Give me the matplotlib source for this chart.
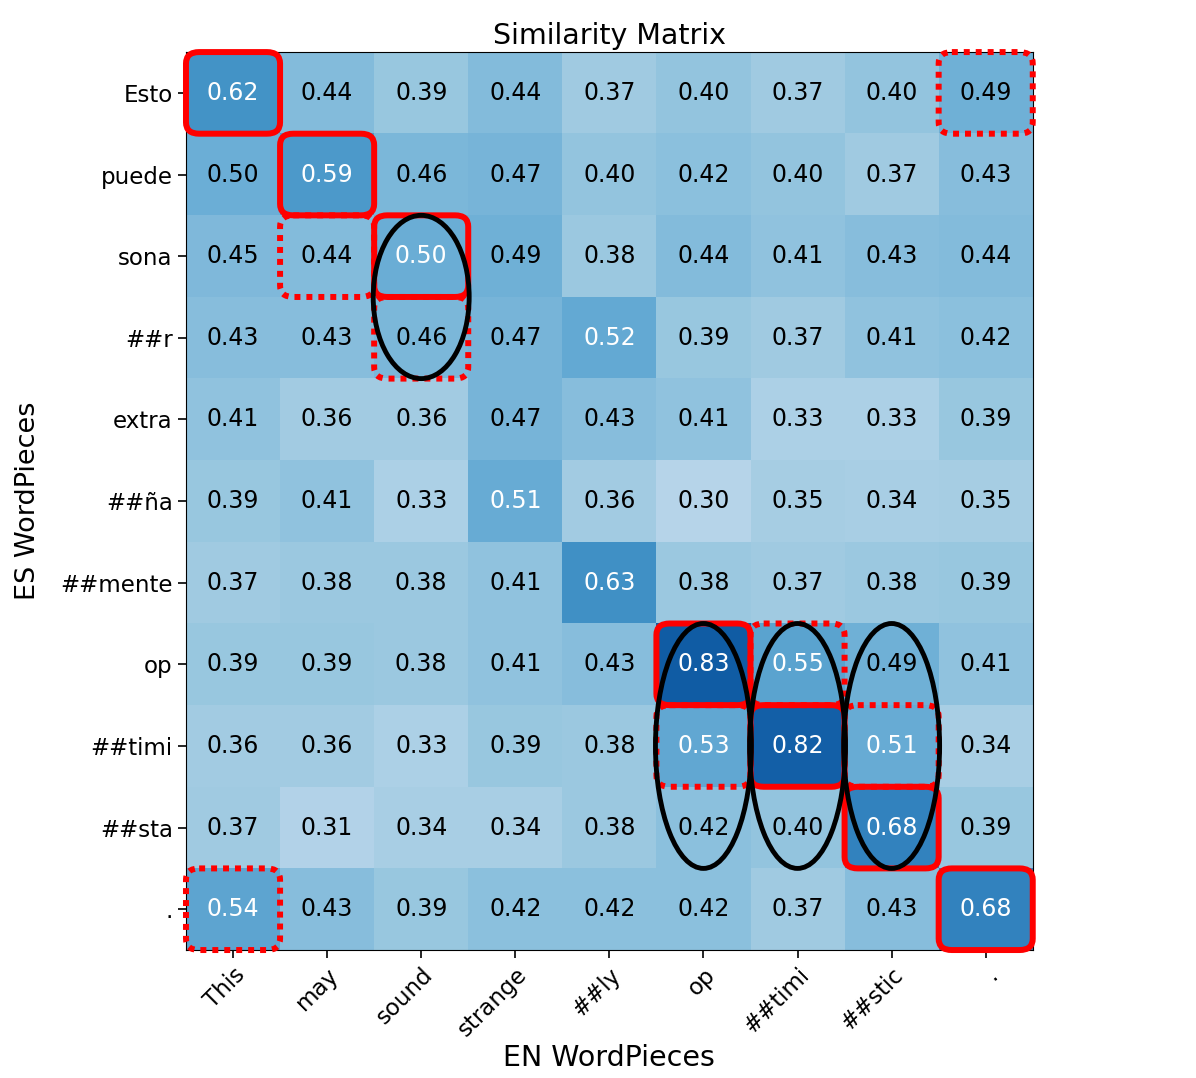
import numpy as np
from matplotlib import pyplot as plt
from matplotlib.patches import FancyBboxPatch, Ellipse

# 词片
en_pieces = ['This', 'may', 'sound', 'strange', '##ly', 'op', '##timi', '##stic', '.']
es_pieces = ['Esto', 'puede', 'sona', '##r', 'extra', '##ña', '##mente', 'op', '##timi', '##sta', '.']

# 相似度
sim = np.array([
    [0.62, 0.44, 0.39, 0.44, 0.37, 0.40, 0.37, 0.40, 0.49],
    [0.498, 0.59, 0.46, 0.47, 0.40, 0.42, 0.40, 0.37, 0.43],
    [0.45, 0.44, 0.502, 0.49, 0.38, 0.44, 0.41, 0.43, 0.44],
    [0.43, 0.43, 0.46, 0.47, 0.52, 0.39, 0.37, 0.41, 0.42],
    [0.41, 0.36, 0.36, 0.47, 0.43, 0.41, 0.33, 0.33, 0.39],
    [0.39, 0.41, 0.33, 0.51, 0.36, 0.30, 0.35, 0.34, 0.35],
    [0.37, 0.38, 0.38, 0.41, 0.63, 0.38, 0.37, 0.38, 0.39],
    [0.39, 0.39, 0.38, 0.41, 0.43, 0.83, 0.55, 0.49, 0.41],
    [0.36, 0.36, 0.33, 0.39, 0.38, 0.53, 0.82, 0.51, 0.34],
    [0.37, 0.31, 0.34, 0.34, 0.38, 0.42, 0.40, 0.68, 0.39],
    [0.54, 0.43, 0.39, 0.42, 0.42, 0.42, 0.37, 0.43, 0.68],
])

# 标注 (row, col)
solid_boxes = [(0, 0), (1, 1), (2, 2), (7, 5), (8, 6), (9, 7), (10, 8)]
dotted_boxes = [(0, 8), (2, 1), (3, 2), (7, 6), (8, 5), (8, 7), (10, 0)]
# (中心行, 列, 行数)
ellipses = [(2.5, 2, 2), (8, 5, 3), (8, 6, 3), (8, 7, 3)]

fig = plt.figure(figsize=(11.96, 10.78), dpi=100)
ax = fig.add_axes([0.1555, 0.1187, 0.708, 0.833])
ax.imshow(sim, cmap='Blues', vmin=0, vmax=1, aspect='auto')

for i in range(sim.shape[0]):
    for j in range(sim.shape[1]):
        v = sim[i, j]
        ax.text(j, i, f'{v:.2f}', ha='center', va='center', fontsize=17,
                color='white' if v > 0.5 else 'black')


def add_box(r, c, ls):
    pad = 0.04
    box = FancyBboxPatch((c - 0.5 + pad, r - 0.5 + pad), 1 - 2 * pad, 1 - 2 * pad,
                         boxstyle=f'round,pad={pad},rounding_size=0.14',
                         fill=False, edgecolor='red', linewidth=4.3,
                         linestyle=ls, zorder=3, clip_on=False)
    ax.add_patch(box)


for r, c in solid_boxes:
    add_box(r, c, '-')
for r, c in dotted_boxes:
    add_box(r, c, (0, (1, 1)))

for r, c, n in ellipses:
    ax.add_patch(Ellipse((c, r), 1.02, n, fill=False, edgecolor='black',
                         linewidth=3.5, zorder=4, clip_on=False))

ax.set_xticks(range(len(en_pieces)))
ax.set_xticklabels(en_pieces, rotation=45, ha='right', rotation_mode='anchor', fontsize=16.5)
ax.set_yticks(range(len(es_pieces)))
ax.set_yticklabels(es_pieces, fontsize=16.5)
ax.tick_params(length=6, width=1.2)
ax.set_title('Similarity Matrix', fontsize=20.5, pad=6)
ax.set_xlabel('EN WordPieces', fontsize=20.5, labelpad=2)
ax.set_ylabel('ES WordPieces', fontsize=19.5, labelpad=14)

plt.savefig('out.png', dpi=100)
